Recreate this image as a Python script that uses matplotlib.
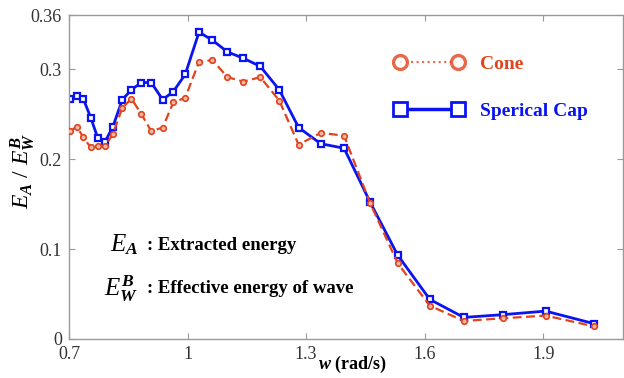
import matplotlib
matplotlib.use("Agg")
from matplotlib import pyplot as plt
from matplotlib.lines import Line2D

# frequency w (rad/s)
w = [0.703, 0.720, 0.736, 0.755, 0.773, 0.791, 0.811, 0.835, 0.858, 0.883,
     0.908, 0.937, 0.964, 0.994, 1.029, 1.063, 1.101, 1.141, 1.184, 1.232,
     1.281, 1.337, 1.396, 1.462, 1.532, 1.613, 1.699, 1.797, 1.906, 2.029]

cone = [0.231, 0.236, 0.224, 0.213, 0.215, 0.214, 0.228, 0.257, 0.267, 0.250,
        0.231, 0.235, 0.263, 0.268, 0.308, 0.310, 0.291, 0.286, 0.291, 0.265,
        0.216, 0.229, 0.226, 0.151, 0.084, 0.037, 0.020, 0.023, 0.026, 0.014]

cap = [0.267, 0.270, 0.267, 0.246, 0.223, 0.219, 0.236, 0.266, 0.277, 0.285,
       0.285, 0.266, 0.275, 0.294, 0.341, 0.332, 0.319, 0.312, 0.303, 0.277,
       0.235, 0.217, 0.212, 0.152, 0.093, 0.044, 0.024, 0.027, 0.031, 0.017]

xticks = [0.7, 1.0, 1.3, 1.6, 1.9]
xtick_labels = ["0.7", "1", "1.3", "1.6", "1.9"]
yticks = [0, 0.1, 0.2, 0.3, 0.36]
ytick_labels = ["0", "0.1", "0.2", "0.3", "0.36"]

RED = "#e2431c"
BLUE = "#0a14f0"

plt.rcParams["font.family"] = "serif"
plt.rcParams["font.serif"] = ["Liberation Serif", "DejaVu Serif"]
plt.rcParams["mathtext.fontset"] = "custom"
plt.rcParams["mathtext.rm"] = "Liberation Serif"
plt.rcParams["mathtext.it"] = "Liberation Serif:italic"
plt.rcParams["mathtext.bf"] = "Liberation Serif:bold"
plt.rcParams["mathtext.bfit"] = "Liberation Serif:italic:bold"

fig = plt.figure(figsize=(6.24, 3.78), dpi=100)
ax = fig.add_axes([0.1106, 0.1032, 0.8885, 0.857])

ax.plot(w, cone, color=RED, linestyle=(0, (4, 2)), linewidth=1.6,
        marker="o", markersize=4, markerfacecolor="#f3b9a8",
        markeredgecolor=RED, markeredgewidth=1.2, zorder=3)
ax.plot(w, cap, color=BLUE, linestyle="-", linewidth=2.0,
        marker="s", markersize=5, markerfacecolor="white",
        markeredgecolor=BLUE, markeredgewidth=1.6, zorder=2)

ax.set_xlim(0.7, 2.103)
ax.set_ylim(0, 0.36)
ax.set_xticks(xticks)
ax.set_xticklabels(xtick_labels)
ax.set_yticks(yticks)
ax.set_yticklabels(ytick_labels)
ax.tick_params(direction="in", length=4, width=0.8, top=True, right=True,
               labelsize=13, colors="#999999", labelcolor="#333333", pad=5)
for s in ax.spines.values():
    s.set_color("#999999")
    s.set_linewidth(1.0)

# x label sits just under the tick labels, a bit right of centre
ax.text(1.418, -0.078, r"$\boldsymbol{w}$ (rad/s)", transform=ax.get_xaxis_transform(),
        fontsize=13, fontweight="bold", ha="center", va="center")
ax.set_ylabel(r"$E_{\boldsymbol{A}}\ /\ E_{\boldsymbol{W}}^{\boldsymbol{B}}$",
              fontsize=17)
ax.yaxis.set_label_coords(-0.058, 0.52)

# legend with proxy handles (look of the original legend)
h_cone = Line2D([], [], color=RED, linestyle=":", linewidth=1.5, alpha=0.8,
                marker="o", markersize=10, markerfacecolor="white",
                markeredgecolor=RED, markeredgewidth=2.4)
h_cap = Line2D([], [], color=BLUE, linestyle="-", linewidth=2.5,
               marker="s", markersize=10, markerfacecolor="white",
               markeredgecolor=BLUE, markeredgewidth=2.0)
leg = ax.legend([h_cone, h_cap], ["Cone", "Sperical Cap"], numpoints=2,
                frameon=False, loc="upper left",
                bbox_to_anchor=(0.555, 0.93), handlelength=3.6,
                handletextpad=0.8, labelspacing=1.5,
                prop={"family": "Liberation Serif", "weight": "bold",
                      "size": 14})
leg.get_texts()[0].set_color(RED)
leg.get_texts()[1].set_color(BLUE)

ax.text(0.125, 0.29, r"$E_{\boldsymbol{A}}$", transform=ax.transAxes,
        fontsize=18, ha="right", va="center")
ax.text(0.14, 0.29, ": Extracted energy", transform=ax.transAxes,
        fontsize=13.5, fontweight="bold", ha="left", va="center")
ax.text(0.125, 0.157, r"$E_{\boldsymbol{W}}^{\boldsymbol{B}}$",
        transform=ax.transAxes, fontsize=18, ha="right", va="center")
ax.text(0.14, 0.157, ": Effective energy of wave", transform=ax.transAxes,
        fontsize=13.5, fontweight="bold", ha="left", va="center")

fig.savefig("out.png", dpi=100)
